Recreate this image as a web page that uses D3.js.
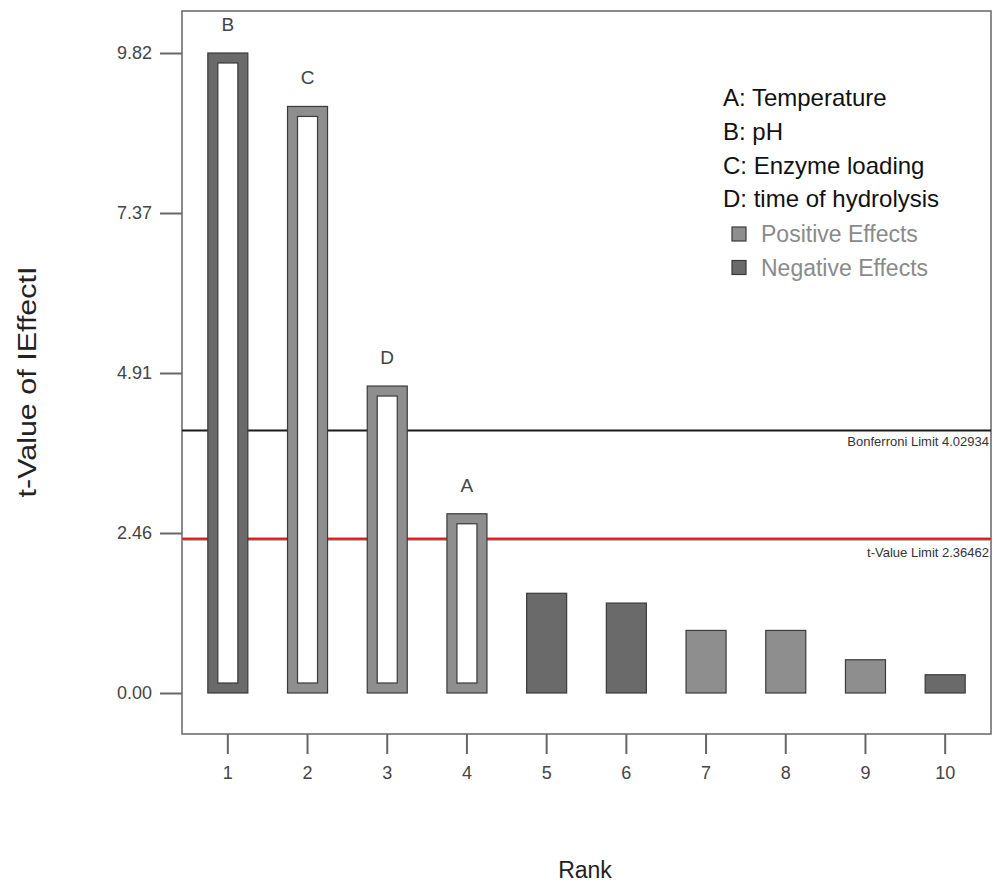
<!DOCTYPE html>
<html>
<head>
<meta charset="utf-8">
<script src="https://cdn.jsdelivr.net/npm/d3@7"></script>
<style>
  html, body { margin: 0; padding: 0; background: #fff; }
  svg { display: block; font-family: "Liberation Sans", Arial, Helvetica, sans-serif; }
</style>
</head>
<body>
<svg id="chart" width="994" height="884"></svg>
<script>
// ---- data ----
const ranks = [1, 2, 3, 4, 5, 6, 7, 8, 9, 10];
const tValues = [9.82, 9.0, 4.71, 2.75, 1.53, 1.38, 0.96, 0.96, 0.51, 0.28];
const effectSigns = ["neg", "pos", "pos", "pos", "neg", "neg", "pos", "pos", "pos", "neg"];
const termLabels = ["B", "C", "D", "A", "", "", "", "", "", ""];
const yTickValues = [0, 2.455, 4.91, 7.365, 9.82];
const yTickLabels = ["0.00", "2.46", "4.91", "7.37", "9.82"];
const legendTerms = ["A: Temperature", "B: pH", "C: Enzyme loading", "D: time of hydrolysis"];
const legendEffects = ["Positive Effects", "Negative Effects"];
const legendEffectKeys = ["pos", "neg"];
const bonferroniLimit = 4.02934;
const tValueLimit = 2.36462;

// ---- layout ----
const frame = { left: 182, top: 11, right: 991, bottom: 734 };
const colors = { pos: "#8e8e8e", neg: "#6a6a6a" };
const edge = "#3a3a3a";

const svg = d3.select("#chart");

const x = d3.scaleBand().domain(ranks)
  .range([frame.left, frame.right])
  .paddingInner(0.498).paddingOuter(0.324);
const y = d3.scaleLinear().domain([0, 9.82]).range([693, 53]);

// frame
svg.append("rect")
  .attr("x", frame.left).attr("y", frame.top)
  .attr("width", frame.right - frame.left).attr("height", frame.bottom - frame.top)
  .attr("fill", "none").attr("stroke", "#6e6e6e").attr("stroke-width", 1.6);

// limit lines (behind bars)
svg.append("line")
  .attr("x1", frame.left).attr("x2", frame.right)
  .attr("y1", y(bonferroniLimit)).attr("y2", y(bonferroniLimit))
  .attr("stroke", "#1a1a1a").attr("stroke-width", 2);
svg.append("line")
  .attr("x1", frame.left).attr("x2", frame.right)
  .attr("y1", y(tValueLimit)).attr("y2", y(tValueLimit))
  .attr("stroke", "#9a9a9a").attr("stroke-width", 3.5);
svg.append("line")
  .attr("x1", frame.left).attr("x2", frame.right)
  .attr("y1", y(tValueLimit)).attr("y2", y(tValueLimit))
  .attr("stroke", "#ee1111").attr("stroke-width", 1.6);

svg.append("text")
  .attr("x", 989).attr("y", y(bonferroniLimit) + 16)
  .attr("text-anchor", "end").attr("font-size", 13).attr("fill", "#333")
  .text("Bonferroni Limit " + bonferroniLimit.toFixed(5));
svg.append("text")
  .attr("x", 989).attr("y", y(tValueLimit) + 18)
  .attr("text-anchor", "end").attr("font-size", 13).attr("fill", "#333")
  .text("t-Value Limit " + tValueLimit.toFixed(5));

// bars
const data = ranks.map((r, i) => ({ rank: r, v: tValues[i], sign: effectSigns[i], label: termLabels[i] }));
const bars = svg.append("g");
const border = 10;
bars.selectAll("rect.outer").data(data).join("rect")
  .attr("class", "outer")
  .attr("x", d => x(d.rank)).attr("y", d => y(d.v))
  .attr("width", x.bandwidth()).attr("height", d => y(0) - y(d.v))
  .attr("fill", d => colors[d.sign]).attr("stroke", edge).attr("stroke-width", 1.2);
bars.selectAll("rect.inner").data(data.filter(d => d.v > tValueLimit)).join("rect")
  .attr("class", "inner")
  .attr("x", d => x(d.rank) + border).attr("y", d => y(d.v) + border)
  .attr("width", x.bandwidth() - 2 * border).attr("height", d => y(0) - y(d.v) - 2 * border)
  .attr("fill", "#fff").attr("stroke", edge).attr("stroke-width", 1.2);
bars.selectAll("text").data(data.filter(d => d.label)).join("text")
  .attr("x", d => x(d.rank) + x.bandwidth() / 2).attr("y", d => y(d.v) - 22)
  .attr("text-anchor", "middle").attr("font-size", 19).attr("fill", "#444")
  .text(d => d.label);

// axes
const yAxis = d3.axisLeft(y).tickValues(yTickValues)
  .tickFormat((d, i) => yTickLabels[i]).tickSize(22).tickSizeOuter(0).tickPadding(8);
const gy = svg.append("g").attr("transform", `translate(${frame.left},0)`).call(yAxis);
gy.select(".domain").remove();
gy.selectAll("line").attr("stroke", "#666").attr("stroke-width", 2);
gy.selectAll("text").attr("font-size", 18.5).attr("fill", "#444")
  .attr("font-family", "'Liberation Sans', Arial, sans-serif")
  .attr("textLength", 35).attr("lengthAdjust", "spacingAndGlyphs");

const xAxis = d3.axisBottom(x).tickSize(20).tickSizeOuter(0).tickPadding(12);
const gx = svg.append("g").attr("transform", `translate(0,${frame.bottom})`).call(xAxis);
gx.select(".domain").remove();
gx.selectAll("line").attr("stroke", "#666").attr("stroke-width", 2);
gx.selectAll("text").attr("font-size", 18).attr("fill", "#444")
  .attr("font-family", "'Liberation Sans', Arial, sans-serif");

// axis titles
svg.append("text")
  .attr("x", 585).attr("y", 878)
  .attr("text-anchor", "middle").attr("font-size", 23).attr("fill", "#222")
  .text("Rank");
svg.append("text")
  .attr("transform", "translate(36,382) rotate(-90)")
  .attr("text-anchor", "middle").attr("font-size", 26).attr("fill", "#222")
  .attr("textLength", 231).attr("lengthAdjust", "spacingAndGlyphs")
  .text("t-Value of IEffectI");

// legend
const lg = svg.append("g");
lg.selectAll("text.term").data(legendTerms).join("text")
  .attr("class", "term")
  .attr("x", 723).attr("y", (d, i) => 106 + i * 33.8)
  .attr("font-size", 24).attr("fill", "#111")
  .text(d => d);
const eff = lg.selectAll("g.eff").data(legendEffects).join("g")
  .attr("class", "eff")
  .attr("transform", (d, i) => `translate(0,${242 + i * 33.5})`);
eff.append("rect")
  .attr("x", 732).attr("y", -15).attr("width", 14).attr("height", 14)
  .attr("fill", (d, i) => colors[legendEffectKeys[i]]).attr("stroke", edge).attr("stroke-width", 1.2);
eff.append("text")
  .attr("x", 761).attr("y", 0)
  .attr("font-size", 23).attr("fill", "#8a8a8a")
  .text(d => d);
</script>
</body>
</html>
